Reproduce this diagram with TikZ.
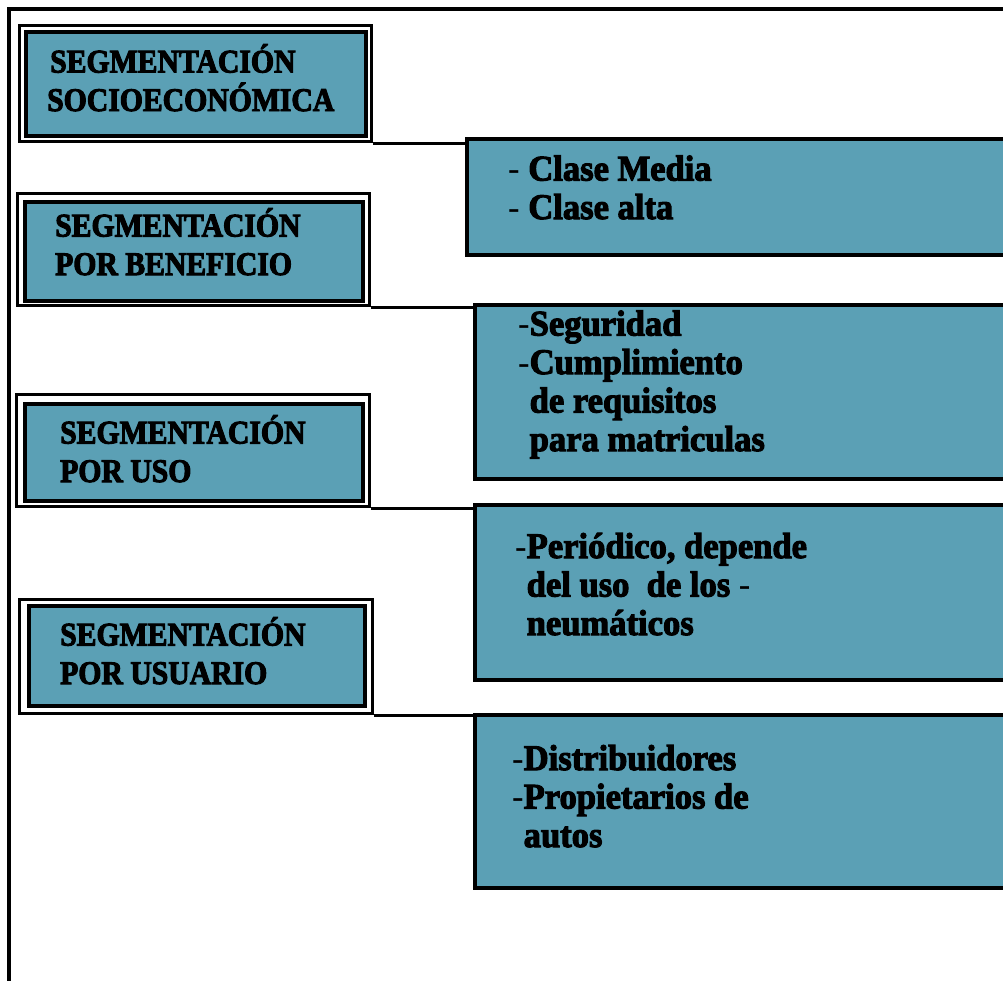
\documentclass[tikz,border=0pt]{standalone}
\usepackage{fontspec}
\setmainfont{Liberation Serif}
\newfontfamily\capsfont{Liberation Serif}[FakeStretch=0.9,FakeBold=3]
\newfontfamily\bodyfont{Liberation Serif}[FakeStretch=0.96,FakeBold=3]
\newfontfamily\dashfont{Liberation Serif}[FakeStretch=0.96]
\newcommand{\dsh}{{\dashfont\mdseries -}}
\newcommand{\dgap}{\hphantom{\dsh}}
\definecolor{panel}{RGB}{91,160,181}
\tikzset{
  frameline/.style={draw=black, line width=3.4pt},
  outerbox/.style={draw=black, line width=3.2pt, fill=white, rectangle, inner sep=0pt, anchor=north west},
  innerbox/.style={draw=black, line width=4pt, fill=panel, rectangle, inner sep=0pt, anchor=north west},
  sidebox/.style={draw=black, line width=3.6pt, fill=panel, rectangle, inner sep=0pt, anchor=north west},
  tielink/.style={draw=black, line width=3.4pt},
  headtext/.style={anchor=base west, inner sep=0pt, align=left,
    font=\capsfont\bfseries\fontsize{33}{38.5}\selectfont},
  listtext/.style={anchor=base west, inner sep=0pt, align=left,
    font=\bodyfont\bfseries\fontsize{36}{38.5}\selectfont},
}
\begin{document}
\begin{tikzpicture}[x=1pt,y=-1pt]
\useasboundingbox (0,0) rectangle (1003,980);
\clip (0,0) rectangle (1003,980);

% outer frame: top rule and left rule
\coordinate (ftop) at (1010,9);
\coordinate (fbot) at (9,990);
\draw[frameline] (fbot) |- (ftop);

% left column: double-bordered headings
\node[outerbox, minimum width=352pt, minimum height=116pt] (o1) at (18,24) {};
\node[innerbox, minimum width=340pt, minimum height=104pt] (i1) at (24,30) {};
\node[outerbox, minimum width=352pt, minimum height=112pt] (o2) at (16,192) {};
\node[innerbox, minimum width=338pt, minimum height=99pt] (i2) at (23,200) {};
\node[outerbox, minimum width=353pt, minimum height=112pt] (o3) at (15,393) {};
\node[innerbox, minimum width=338pt, minimum height=97pt] (i3) at (23,402) {};
\node[outerbox, minimum width=353pt, minimum height=114pt] (o4) at (18,598) {};
\node[innerbox, minimum width=336pt, minimum height=100pt] (i4) at (27,604) {};

% right column: description panels
\node[sidebox, minimum width=570pt, minimum height=116pt] (r1) at (465,137) {};
\node[sidebox, minimum width=560pt, minimum height=174pt] (r2) at (473,303) {};
\node[sidebox, minimum width=560pt, minimum height=175pt] (r3) at (473,503) {};
\node[sidebox, minimum width=560pt, minimum height=173pt] (r4) at (473,713) {};

% rules running from each heading to its panel
\draw[tielink] (o1.south east) -- (o1.south east -| r1.west);
\draw[tielink] (o2.south east) -- (o2.south east -| r2.west);
\draw[tielink] (o3.south east) -- (o3.south east -| r3.west);
\draw[tielink] (o4.south east) -- (o4.south east -| r4.west);

% heading texts (placed by the baseline of their last line)
\node[headtext] (h1) at (47,111) {\hspace{3pt}SEGMENTACIÓN\\SOCIOECONÓMICA};
\node[headtext] (h2) at (55,275) {SEGMENTACIÓN\\POR BENEFICIO};
\node[headtext] (h3) at (60,482) {SEGMENTACIÓN\\POR USO};
\node[headtext] (h4) at (60,684) {SEGMENTACIÓN\\POR USUARIO};

% panel texts (placed by the baseline of their last line)
\node[listtext] (t1) at (508,219) {\dsh\ Clase Media\\\dsh\ Clase alta};
\node[listtext] (t2) at (518,451) {\dsh Seguridad\\\dsh Cumplimiento\\\dgap de requisitos\\\dgap para matriculas};
\node[listtext] (t3) at (515,635) {\dsh Periódico, depende\\\dgap del uso\ \ de los \dsh\\\dgap neumáticos};
\node[listtext] (t4) at (512,847) {\dsh Distribuidores\\\dsh Propietarios de\\\dgap autos};
\end{tikzpicture}
\end{document}
